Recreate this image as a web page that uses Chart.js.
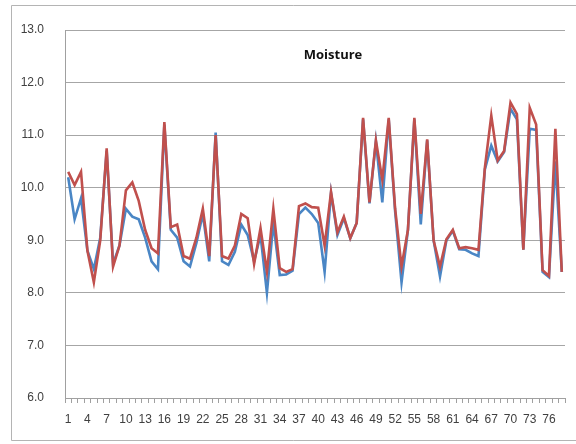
<!DOCTYPE html>
<html>
<head>
<meta charset="utf-8">
<script src="https://cdn.jsdelivr.net/npm/chart.js@4/dist/chart.umd.min.js"></script>
<style>
  html, body { margin: 0; padding: 0; background: #fff; }
  canvas { display: block; }
</style>
</head>
<body>
<canvas id="moisture-chart" width="576" height="444"></canvas>
<script>
"use strict";

const chartTitle = "Moisture";

// sample numbers 1..78 on the category axis
const categories = Array.from({ length: 78 }, (_, i) => String(i + 1));

const series1 = [
  10.2, 9.4, 9.8, 8.8, 8.45, 9.05, 10.7, 8.55, 8.9, 9.6,
  9.45, 9.4, 9.05, 8.6, 8.45, 11.2, 9.2, 9.05, 8.6, 8.5,
  8.95, 9.5, 8.6, 11.05, 8.6, 8.53, 8.78, 9.3, 9.1, 8.6,
  9.1, 8.0, 9.33, 8.34, 8.35, 8.42, 9.5, 9.62, 9.5, 9.33,
  8.4, 9.9, 9.1, 9.42, 9.04, 9.33, 11.3, 9.7, 10.88, 9.72,
  11.3, 9.55, 8.2, 9.2, 11.3, 9.3, 10.9, 9.0, 8.31, 9.0,
  9.18, 8.83, 8.82, 8.75, 8.7, 10.35, 10.8, 10.5, 10.68, 11.5,
  11.3, 8.82, 11.12, 11.1, 8.4, 8.3, 10.5, 8.4,
];

const series2 = [
  10.3, 10.05, 10.3, 8.8, 8.2, 9.0, 10.75, 8.5, 8.9, 9.95,
  10.1, 9.75, 9.2, 8.85, 8.75, 11.25, 9.25, 9.3, 8.7, 8.65,
  9.05, 9.6, 8.7, 11.0, 8.7, 8.65, 8.9, 9.5, 9.42, 8.55,
  9.23, 8.4, 9.6, 8.47, 8.4, 8.45, 9.65, 9.7, 9.63, 9.62,
  8.9, 9.92, 9.15, 9.45, 9.04, 9.33, 11.33, 9.72, 10.9, 10.15,
  11.33, 9.6, 8.5, 9.2, 11.33, 9.5, 10.92, 9.0, 8.5, 9.02,
  9.2, 8.85, 8.87, 8.85, 8.82, 10.38, 11.37, 10.52, 10.7, 11.62,
  11.4, 8.82, 11.52, 11.2, 8.43, 8.32, 11.12, 8.4,
];

const yMin = 6;
const yMax = 13;
const yStep = 1;

const frameAndTitle = {
  id: "frameAndTitle",
  beforeDraw(chart) {
    const { ctx } = chart;
    ctx.save();
    ctx.fillStyle = "#ffffff";
    ctx.fillRect(0, 0, chart.width, chart.height);
    ctx.strokeStyle = "#b4b4b4";
    ctx.lineWidth = 1;
    ctx.beginPath();
    ctx.moveTo(chart.width, 5.5);
    ctx.lineTo(11.5, 5.5);
    ctx.lineTo(11.5, 440.5);
    ctx.lineTo(chart.width, 440.5);
    ctx.stroke();
    ctx.restore();
  },
  afterDraw(chart) {
    const { ctx, chartArea } = chart;
    ctx.save();
    ctx.fillStyle = "#111111";
    ctx.font = "bold 13px 'Open Sans', 'Liberation Sans', sans-serif";
    ctx.textAlign = "center";
    ctx.textBaseline = "middle";
    ctx.fillText(chartTitle, chartArea.left + 268, chartArea.top + 25);
    ctx.restore();
  },
};

const ctx = document.getElementById("moisture-chart").getContext("2d");

new Chart(ctx, {
  type: "line",
  data: {
    labels: categories,
    datasets: [
      {
        label: "Series2",
        data: series2,
        borderColor: "#c0504d",
        borderWidth: 2.6,
        pointRadius: 0,
        tension: 0,
        order: 1,
      },
      {
        label: "Series1",
        data: series1,
        borderColor: "#4a86c5",
        borderWidth: 2.6,
        pointRadius: 0,
        tension: 0,
        order: 2,
      },
    ],
  },
  options: {
    responsive: false,
    devicePixelRatio: 1,
    animation: false,
    layout: { padding: { top: 30, right: 11, left: 0, bottom: 0 } },
    plugins: {
      legend: { display: false },
      tooltip: { enabled: false },
    },
    scales: {
      x: {
        offset: true,
        afterFit: (scale) => { scale.height = 46; },
        grid: {
          offset: true,
          drawOnChartArea: false,
          tickLength: 5,
          color: "#a0a0a0",
        },
        border: { color: "#a0a0a0" },
        ticks: {
          autoSkip: false,
          maxRotation: 0,
          minRotation: 0,
          padding: 9,
          color: "#404040",
          font: { size: 12, family: "'Liberation Sans Narrow', 'Liberation Sans', sans-serif" },
          callback: (value, index) => (index % 3 === 0 ? categories[index] : ""),
        },
      },
      y: {
        min: yMin,
        max: yMax,
        afterFit: (scale) => { scale.width = 65; },
        grid: { color: "#a6a6a6", drawTicks: false },
        border: { color: "#a0a0a0" },
        ticks: {
          stepSize: yStep,
          padding: 21,
          color: "#404040",
          font: { size: 12, family: "'Liberation Sans', sans-serif" },
          callback: (value) => Number(value).toFixed(1),
        },
      },
    },
  },
  plugins: [frameAndTitle],
});
</script>
</body>
</html>
